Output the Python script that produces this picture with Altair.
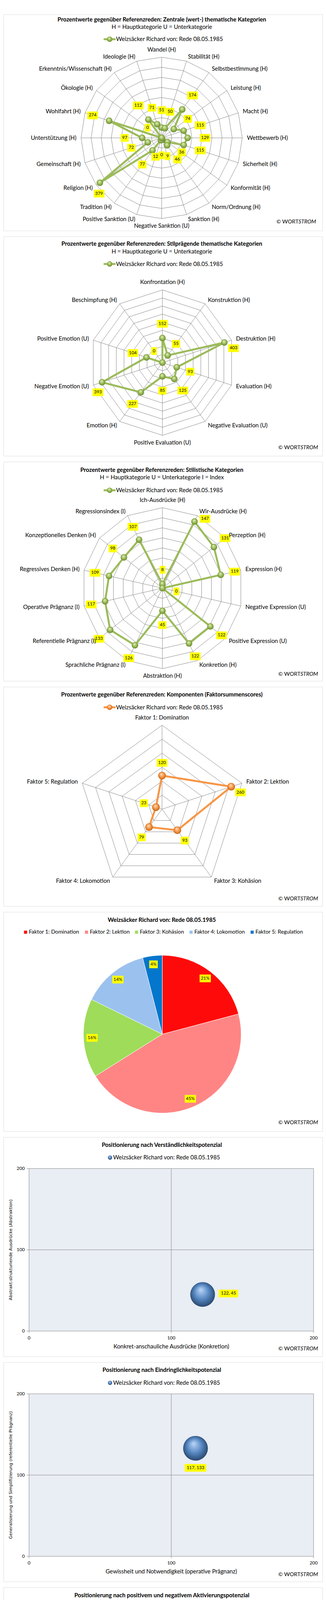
import pandas as pd
import altair as alt

# ------------------------------------------------------------------ data
SPEAKER = "Weizsäcker Richard von: Rede 08.05.1985"

zentral_cats = ["Wandel (H)", "Stabilität (H)", "Selbstbestimmung (H)", "Leistung (H)",
                "Macht (H)", "Wettbewerb (H)", "Sicherheit (H)", "Konformität (H)",
                "Norm/Ordnung (H)", "Sanktion (H)", "Negative Sanktion (U)",
                "Positive Sanktion (U)", "Tradition (H)", "Religion (H)", "Gemeinschaft (H)",
                "Unterstützung (H)", "Wohlfahrt (H)", "Ökologie (H)",
                "Erkenntnis/Wissenschaft (H)", "Ideologie (H)"]
zentral_vals = [51, 50, 174, 74, 115, 129, 115, 36, 46, 9, 0, 12, 77, 379, 72, 97, 274, 0, 112, 71]

stilpraeg_cats = ["Konfrontation (H)", "Konstruktion (H)", "Destruktion (H)", "Evaluation (H)",
                  "Negative Evaluation (U)", "Positive Evaluation (U)", "Emotion (H)",
                  "Negative Emotion (U)", "Positive Emotion (U)", "Beschimpfung (H)"]
stilpraeg_vals = [152, 55, 403, 93, 125, 85, 227, 393, 104, 0]

stilist_cats = ["Ich-Ausdrücke (H)", "Wir-Ausdrücke (H)", "Perzeption (H)", "Expression (H)",
                "Negative Expression (U)", "Positive Expression (U)", "Konkretion (H)",
                "Abstraktion (H)", "Sprachliche Prägnanz (I)", "Referentielle Prägnanz (I)",
                "Operative Prägnanz (I)", "Regressives Denken (H)", "Konzeptionelles Denken (H)",
                "Regressionsindex (I)"]
stilist_vals = [8, 147, 131, 119, 0, 122, 122, 45, 126, 133, 117, 109, 98, 107]

faktor_cats = ["Faktor 1: Domination", "Faktor 2: Lektion", "Faktor 3: Kohäsion",
               "Faktor 4: Lokomotion", "Faktor 5: Regulation"]
faktor_vals = [120, 260, 93, 79, 23]

verst_x, verst_y = [122], [45]
eindr_x, eindr_y = [117], [133]
aktiv_x, aktiv_y = [64], [179]
scatter_ticks = [0, 100, 200]

menschen_cats = ["Bevölkerung/Volk (H)", "Mensch (H)", "Bürgerrolle (H)", "Wählerrolle (H)",
                 "Familienrolle (H)", "Menschlicher Bezug Gesamt"]
menschen_vals = [423, 361, 133, 0, 131, 286]
menschen_ticks = [0, 100, 200, 300, 400, 500]

bedroh_cats = ["Unspezifische Katastrophe (H)", "Naturkatastrophe (H)", "Krise (H)",
               "Arbeitslosigkeit (H)", "Terror (H)", "Krieg (H)"]
bedroh_vals = [0, 0, 0, 0, 0, 925]
bedroh_ticks = [0, 100, 200, 300, 400, 500, 600, 700, 800, 900, 1000]

# ------------------------------------------------------------------ style / layout
FONT = "Lato"
GRID = "#868686"
YELLOW = "#FFFF00"
GREEN = "#9BBB59"
ORANGE = "#F79646"
PLOT_BG = "#E9EDF4"
PIE_COLORS = ["#FF0A0A", "#FF8585", "#9FDC5A", "#9BC1EF", "#0476CC"]
PIE_LEGEND_X = [61, 218.7, 348, 489, 647]   # page x of legend squares (layout)


def grad(light, mid, dark):
    return {"gradient": "radial", "x1": 0.42, "y1": 0.3, "r1": 0.0,
            "x2": 0.5, "y2": 0.5, "r2": 0.6,
            "stops": [{"offset": 0, "color": light},
                      {"offset": 0.5, "color": mid},
                      {"offset": 1, "color": dark}]}


GREEN_GRAD = grad("#e6f3c2", "#9bbb59", "#5b7a22")
ORANGE_GRAD = grad("#fde3c6", "#f79646", "#b35405")
BLUE_GRAD = grad("#bcd7f8", "#5687c2", "#1a3452")

X0 = 8
PW = 825
TOPS = [8, 580, 1160, 1740, 2320, 2900, 3480, 4060, 4640, 5220]
HS = [559] + [567] * 9
CX_PAGE = 417.5


def X(px):
    return px - X0


def txt(s, x, y, size=15, bold=False, italic=False, align="center", baseline="middle",
        angle=0, font=FONT, color="black"):
    kw = dict(font=font, fontSize=size, align=align, baseline=baseline, color=color)
    if bold:
        kw["fontWeight"] = "bold"
    if italic:
        kw["fontStyle"] = "italic"
    if angle:
        kw["angle"] = angle
    return alt.Chart(pd.DataFrame({"t": [s]})).mark_text(**kw).encode(
        text="t:N", x=alt.value(x), y=alt.value(y))


def header(k, title, ty, sub=None, sy=None):
    T = TOPS[k]
    out = [txt(title, X(CX_PAGE), ty - T, size=15, bold=True)]
    if sub:
        out.append(txt(sub, X(CX_PAGE), sy - T, size=15))
    return out


def copyright(k, yp, right=824):
    y = yp - TOPS[k]
    split = X(right) - 48
    return [txt("© WORT", split, y, size=14, align="right"),
            txt("STROM", split, y, size=14, italic=True, align="left")]


def legend_line(k, yp, color, g):
    y = yp - TOPS[k]
    one = pd.DataFrame({"a": [0]})
    seg = alt.Chart(one).mark_rule(color=color, strokeWidth=5).encode(
        x=alt.value(X(267)), x2=alt.value(X(298)), y=alt.value(y))
    ball = alt.Chart(one).mark_circle(size=14 * 14, opacity=1, fill=g).encode(
        x=alt.value(X(282.5)), y=alt.value(y))
    return [seg, ball, txt(SPEAKER, X(299), y, size=15, align="left")]


def legend_ball(k, yp):
    y = yp - TOPS[k]
    ball = alt.Chart(pd.DataFrame({"a": [0]})).mark_circle(size=121, opacity=1, fill=BLUE_GRAD).encode(
        x=alt.value(X(283.5)), y=alt.value(y))
    return [ball, txt(SPEAKER, X(291.5), y, size=15, align="left")]


def legend_square(k, yp, color):
    y = yp - TOPS[k]
    sq = alt.Chart(pd.DataFrame({"a": [0]})).mark_square(size=100, opacity=1, color=color,
                                                          stroke="#777777", strokeWidth=0.5).encode(
        x=alt.value(X(283.2)), y=alt.value(y))
    return [sq, txt(SPEAKER, X(291.5), y, size=15, align="left")]


# ------------------------------------------------------------------ radar
def radar_layers(k, cats, vals, cxp, cyp, R, vmax, step, line_color, g, sphere_d, val_off):
    n = len(cats)
    T = TOPS[k]
    cx, cy = X(cxp), cyp - T
    kpx = vmax / R
    xsc = alt.Scale(domain=[-vmax, vmax], range=[cx - R, cx + R], nice=False, zero=False)
    ysc = alt.Scale(domain=[-vmax, vmax], range=[cy + R, cy - R], nice=False, zero=False)

    def exy(xf, yf):
        return dict(x=alt.X(xf, type="quantitative", scale=xsc, axis=None),
                    y=alt.Y(yf, type="quantitative", scale=ysc, axis=None))

    def polar(ch):
        return ch.transform_calculate(ang=f"datum.idx * 2 * PI / {n}").transform_calculate(
            sx="sin(datum.ang)", sy="cos(datum.ang)")

    df = pd.DataFrame({"cat": cats, "value": vals, "idx": list(range(n))})
    levels = [step * (i + 1) for i in range(int(round(vmax / step)))]
    ring_df = pd.DataFrame({"ring": [r for r in levels for _ in range(n)],
                            "idx": [i for _ in levels for i in range(n)]})
    layers = []
    layers.append(
        polar(alt.Chart(ring_df)).transform_calculate(rx="datum.ring * datum.sx", ry="datum.ring * datum.sy")
        .mark_line(interpolate="linear-closed", color=GRID, strokeWidth=1)
        .encode(**exy("rx", "ry"), detail="ring:N", order="idx:Q"))
    layers.append(
        polar(alt.Chart(df)).transform_calculate(z="0", ex=f"{vmax} * datum.sx", ey=f"{vmax} * datum.sy")
        .mark_rule(color=GRID, strokeWidth=1)
        .encode(**exy("z", "z"), x2="ex:Q", y2="ey:Q"))
    pts = polar(alt.Chart(df)).transform_calculate(px="datum.value * datum.sx", py="datum.value * datum.sy")
    layers.append(pts.mark_line(interpolate="linear-closed", color=line_color, strokeWidth=5)
                  .encode(**exy("px", "py"), order="idx:Q"))
    layers.append(pts.mark_circle(size=sphere_d ** 2, opacity=1, fill=g).encode(**exy("px", "py")))

    # value labels: radial, but points close to the outer ring get their label turned
    # towards the bottom so that it stays clear of the category names
    lab = pts.transform_calculate(
        label="'' + datum.value",
        near=f"datum.value > {0.85 * vmax}").transform_calculate(
        la="datum.near ? (datum.ang < PI ? datum.ang + 0.87 : datum.ang - 0.87) : datum.ang",
        lo=f"(datum.near ? 28 : {val_off}) * {kpx}").transform_calculate(
        lxv="datum.px + datum.lo * sin(datum.la)", lyv="datum.py + datum.lo * cos(datum.la)",
        hw=f"(length(datum.label) * 6.5 + 8) / 2 * {kpx}").transform_calculate(
        bx0="datum.lxv - datum.hw", bx1="datum.lxv + datum.hw",
        by0=f"datum.lyv - {10 * kpx}", by1=f"datum.lyv + {10 * kpx}")
    layers.append(lab.mark_rect(fill=YELLOW).encode(**exy("bx0", "by0"), x2="bx1:Q", y2="by1:Q"))
    layers.append(lab.mark_text(font=FONT, fontSize=11.5, color="black").encode(**exy("lxv", "lyv"), text="label:N"))

    cl = polar(alt.Chart(df)).transform_calculate(cr=f"{vmax + 12 * kpx}").transform_calculate(
        cxv="datum.cr * datum.sx", cyv="datum.cr * datum.sy")
    for cond, align, base in [("datum.sx > 0.02", "left", "middle"),
                              ("datum.sx < -0.02", "right", "middle"),
                              ("abs(datum.sx) <= 0.02 && datum.sy > 0", "center", "bottom"),
                              ("abs(datum.sx) <= 0.02 && datum.sy < 0", "center", "top")]:
        layers.append(cl.transform_filter(cond).mark_text(font=FONT, fontSize=15, align=align,
                                                          baseline=base, color="black")
                      .encode(**exy("cxv", "cyv"), text="cat:N"))
    return layers


# ------------------------------------------------------------------ pie
def pie_layers(k, cats, vals, cxp, cyp, r, lab_r, colors, legend_y):
    T = TOPS[k]
    cx, cy = X(cxp), cyp - T
    cscale = alt.Scale(domain=cats, range=colors)
    df = pd.DataFrame({"cat": cats, "value": vals, "idx": list(range(len(cats)))})
    arcs = alt.Chart(df).mark_arc(outerRadius=r, stroke="white", strokeWidth=1).encode(
        theta=alt.Theta("value:Q", stack=True),
        color=alt.Color("cat:N", scale=cscale, legend=None),
        order=alt.Order("idx:Q"),
        x=alt.value(cx), y=alt.value(cy))
    xsc = alt.Scale(domain=[-1, 1], range=[cx - r, cx + r], nice=False, zero=False)
    ysc = alt.Scale(domain=[-1, 1], range=[cy + r, cy - r], nice=False, zero=False)
    lab = alt.Chart(df).transform_joinaggregate(total="sum(value)").transform_window(
        cum="sum(value)", sort=[alt.SortField("idx")], frame=[None, 0]).transform_calculate(
        mid="(datum.cum - datum.value / 2) / datum.total * 2 * PI",
        label="format(datum.value / datum.total, '.0%')").transform_calculate(
        lxv=f"{lab_r / r} * sin(datum.mid)", lyv=f"{lab_r / r} * cos(datum.mid)",
        hw=f"(length(datum.label) * 7 + 8) / 2 / {r}").transform_calculate(
        bx0="datum.lxv - datum.hw", bx1="datum.lxv + datum.hw",
        by0=f"datum.lyv - {10 / r}", by1=f"datum.lyv + {10 / r}")
    box = lab.mark_rect(fill=YELLOW).encode(
        x=alt.X("bx0:Q", scale=xsc, axis=None), x2="bx1:Q",
        y=alt.Y("by0:Q", scale=ysc, axis=None), y2="by1:Q")
    tx = lab.mark_text(font=FONT, fontSize=11.5, color="black").encode(
        x=alt.X("lxv:Q", scale=xsc, axis=None), y=alt.Y("lyv:Q", scale=ysc, axis=None), text="label:N")
    ly = legend_y - T
    leg = []
    for cat, lxp in zip(cats, PIE_LEGEND_X):
        one = alt.Chart(pd.DataFrame({"cat": [cat]}))
        leg.append(one.mark_square(size=64, opacity=1).encode(
            color=alt.Color("cat:N", scale=cscale, legend=None),
            x=alt.value(X(lxp) + 4), y=alt.value(ly)))
        leg.append(one.mark_text(font=FONT, fontSize=14, align="left", baseline="middle", color="black")
                   .encode(text="cat:N", x=alt.value(X(lxp) + 12.6), y=alt.value(ly)))
    return [arcs, box, tx] + leg


# ------------------------------------------------------------------ scatter
def scatter_layers(k, xv, yv, ptop, pbot, lab_dx, lab_dy, xtitle, ytitle, xtitle_y):
    T = TOPS[k]
    x0, x1 = X(74), X(810)
    y0, y1 = pbot - T, ptop - T
    kx = 200 / (x1 - x0)
    ky = 200 / (y0 - y1)
    xsc = alt.Scale(domain=[0, 200], range=[x0, x1], nice=False, zero=False)
    ysc = alt.Scale(domain=[0, 200], range=[y0, y1], nice=False, zero=False)
    frame = pd.DataFrame({"lo": [0], "hi": [200]})
    bg = alt.Chart(frame).mark_rect(fill=PLOT_BG, stroke=GRID, strokeWidth=1).encode(
        x=alt.X("lo:Q", scale=xsc, axis=None), x2="hi:Q",
        y=alt.Y("lo:Q", scale=ysc, axis=None), y2="hi:Q")
    mids = pd.DataFrame({"m": scatter_ticks[1:-1], "lo": [0], "hi": [200]})
    vrule = alt.Chart(mids).mark_rule(color=GRID, strokeWidth=1).encode(
        x=alt.X("m:Q", scale=xsc, axis=None), y=alt.Y("lo:Q", scale=ysc, axis=None), y2="hi:Q")
    hrule = alt.Chart(mids).mark_rule(color=GRID, strokeWidth=1).encode(
        y=alt.Y("m:Q", scale=ysc, axis=None), x=alt.X("lo:Q", scale=xsc, axis=None), x2="hi:Q")
    ticks = alt.Chart(pd.DataFrame({"t": scatter_ticks}))
    xtick = ticks.mark_rule(color=GRID).encode(
        x=alt.X("t:Q", scale=xsc, axis=None), y=alt.value(y0), y2=alt.value(y0 + 5))
    xlab = ticks.mark_text(font=FONT, fontSize=12, color="black", baseline="middle").encode(
        x=alt.X("t:Q", scale=xsc, axis=None), y=alt.value(y0 + 17.5), text="t:N")
    ytick = ticks.mark_rule(color=GRID).encode(
        y=alt.Y("t:Q", scale=ysc, axis=None), x=alt.value(x0 - 6), x2=alt.value(x0))
    ylab = ticks.mark_text(font=FONT, fontSize=12, color="black", align="right", baseline="middle").encode(
        y=alt.Y("t:Q", scale=ysc, axis=None), x=alt.value(x0 - 11), text="t:N")
    pts = alt.Chart(pd.DataFrame({"vx": xv, "vy": yv}))
    bubble = pts.mark_circle(size=64 * 64, opacity=1, fill=BLUE_GRAD).encode(
        x=alt.X("vx:Q", scale=xsc, axis=None), y=alt.Y("vy:Q", scale=ysc, axis=None))
    lab = pts.transform_calculate(
        label="datum.vx + ', ' + datum.vy",
        lxv=f"datum.vx + {lab_dx * kx}", lyv=f"datum.vy - {lab_dy * ky}").transform_calculate(
        hw=f"(length(datum.label) * 6.0 + 8) / 2 * {kx}").transform_calculate(
        bx0="datum.lxv - datum.hw", bx1="datum.lxv + datum.hw",
        by0=f"datum.lyv - {10 * ky}", by1=f"datum.lyv + {10 * ky}")
    box = lab.mark_rect(fill=YELLOW).encode(
        x=alt.X("bx0:Q", scale=xsc, axis=None), x2="bx1:Q",
        y=alt.Y("by0:Q", scale=ysc, axis=None), y2="by1:Q")
    tx = lab.mark_text(font=FONT, fontSize=11.5, color="black").encode(
        x=alt.X("lxv:Q", scale=xsc, axis=None), y=alt.Y("lyv:Q", scale=ysc, axis=None), text="label:N")
    titles = [txt(xtitle, (x0 + x1) / 2, xtitle_y - T, size=15),
              txt(ytitle, X(27.7), (y0 + y1) / 2, size=11, angle=270, font="DejaVu Sans")]
    return [bg, vrule, hrule, xtick, xlab, ytick, ylab, bubble, box, tx] + titles


# ------------------------------------------------------------------ bars
def bar_layers(k, cats, vals, ticks, px0, px1, ptop, pbot, pin, pout, fill, stroke, bg_color,
               label_size):
    T = TOPS[k]
    vmax = ticks[-1]
    x0, x1 = X(px0), X(px1)
    y0, y1 = pbot - T, ptop - T
    kpx = vmax / (y0 - y1)
    xsc = alt.Scale(domain=cats, range=[x0, x1], paddingInner=pin, paddingOuter=pout)
    ysc = alt.Scale(domain=[0, vmax], range=[y0, y1], nice=False, zero=True)
    frame = alt.Chart(pd.DataFrame({"lo": [0], "hi": [vmax]}))
    bg = frame.mark_rect(fill=bg_color, stroke="black", strokeWidth=1).encode(
        x=alt.value(x0), x2=alt.value(x1), y=alt.Y("lo:Q", scale=ysc, axis=None), y2="hi:Q")
    tk = alt.Chart(pd.DataFrame({"t": ticks}))
    grid = tk.transform_filter("datum.t > 0").mark_rule(color="black", strokeWidth=1).encode(
        x=alt.value(x0), x2=alt.value(x1), y=alt.Y("t:Q", scale=ysc, axis=None))
    ytick = tk.mark_rule(color=GRID).encode(
        x=alt.value(x0 - 8), x2=alt.value(x0), y=alt.Y("t:Q", scale=ysc, axis=None))
    ylab = tk.mark_text(font=FONT, fontSize=12, color="black", align="right", baseline="middle").encode(
        x=alt.value(x0 - 12), y=alt.Y("t:Q", scale=ysc, axis=None), text="t:N")
    yaxis = frame.mark_rule(color=GRID, strokeWidth=1).encode(
        x=alt.value(x0), y=alt.Y("lo:Q", scale=ysc, axis=None), y2="hi:Q")
    df = pd.DataFrame({"cat": cats, "value": vals})
    bars = alt.Chart(df).mark_bar(fill=fill, stroke=stroke, strokeWidth=1).encode(
        x=alt.X("cat:N", scale=xsc, axis=None), y=alt.Y("value:Q", scale=ysc, axis=None))
    xaxis = frame.mark_rule(color=GRID, strokeWidth=1).encode(
        x=alt.value(x0), x2=alt.value(x1), y=alt.Y("lo:Q", scale=ysc, axis=None))
    xlab = alt.Chart(df).mark_text(font=FONT, fontSize=label_size, fontStyle="italic", color="black",
                                   align="right", baseline="middle", angle=315).encode(
        x=alt.X("cat:N", scale=xsc, axis=None), y=alt.value(y0 + 14), text="cat:N")
    layers = [bg, grid, bars, yaxis, xaxis, ytick, ylab, xlab]
    lab = alt.Chart(df).transform_calculate(label="'' + datum.value",
                                            lc=f"datum.value + {13 * kpx}").transform_calculate(
        b0=f"datum.lc - {10 * kpx}", b1=f"datum.lc + {10 * kpx}")
    for L in sorted(set(len(str(v)) for v in vals)):
        layers.append(lab.transform_filter(f"length(datum.label) == {L}")
                      .mark_bar(width=L * 6.5 + 8, fill=YELLOW)
                      .encode(x=alt.X("cat:N", scale=xsc, axis=None),
                              y=alt.Y("b0:Q", scale=ysc, axis=None), y2="b1:Q"))
    layers.append(lab.mark_text(font=FONT, fontSize=11.5, color="black").encode(
        x=alt.X("cat:N", scale=xsc, axis=None), y=alt.Y("lc:Q", scale=ysc, axis=None), text="label:N"))
    return layers


# ------------------------------------------------------------------ panels
SUB_HU = "H = Hauptkategorie U = Unterkategorie"
panels = []

L = (header(0, "Prozentwerte gegenüber Referenzreden: Zentrale (wert-) thematische Kategorien", 21, SUB_HU, 40)
     + legend_line(0, 72, GREEN, GREEN_GRAD)
     + radar_layers(0, zentral_cats, zentral_vals, 417, 327, 208.5, 400, 50, GREEN, GREEN_GRAD, 17, 45)
     + copyright(0, 544, 819))
panels.append(alt.layer(*L).properties(width=PW, height=HS[0]))

L = (header(1, "Prozentwerte gegenüber Referenzreden:  Stilprägende thematische Kategorien", 599, SUB_HU, 619)
     + legend_line(1, 651, GREEN, GREEN_GRAD)
     + radar_layers(1, stilpraeg_cats, stilpraeg_vals, 419, 906, 188, 450, 50, GREEN, GREEN_GRAD, 17, 37)
     + copyright(1, 1126))
panels.append(alt.layer(*L).properties(width=PW, height=HS[1]))

L = (header(2, "Prozentwerte gegenüber Referenzreden:  Stilistische Kategorien", 1181,
            "H = Hauptkategorie U = Unterkategorie I = Index", 1201)
     + legend_line(2, 1234, GREEN, GREEN_GRAD)
     + radar_layers(2, stilist_cats, stilist_vals, 419, 1487, 208, 160, 20, GREEN, GREEN_GRAD, 17, 37)
     + copyright(2, 1709))
panels.append(alt.layer(*L).properties(width=PW, height=HS[2]))

L = (header(3, "Prozentwerte gegenüber Referenzreden:  Komponenten (Faktorsummenscores)", 1760)
     + legend_line(3, 1793, ORANGE, ORANGE_GRAD)
     + radar_layers(3, faktor_cats, faktor_vals, 418, 2056.3, 217, 300, 50, ORANGE, ORANGE_GRAD, 20, 33)
     + copyright(3, 2288))
panels.append(alt.layer(*L).properties(width=PW, height=HS[3]))

L = (header(4, SPEAKER, 2340.3)
     + pie_layers(4, faktor_cats, faktor_vals, 418.7, 2636, 204, 182, PIE_COLORS, 2372.3)
     + copyright(4, 2865))
panels.append(alt.layer(*L).properties(width=PW, height=HS[4]))

L = (header(5, "Positionierung nach  Verständlichkeitspotenzial", 2920.3)
     + legend_ball(5, 2953)
     + scatter_layers(5, verst_x, verst_y, 2981.3, 3401.3, 67, -2.5,
                      "Konkret-anschauliche  Ausdrücke (Konkretion)",
                      "Abstrakt-strukturiende  Ausdrücke  (Abstraktion)", 3441.3)
     + copyright(5, 3447.3))
panels.append(alt.layer(*L).properties(width=PW, height=HS[5]))

L = (header(6, "Positionierung nach  Eindringlichkeitspotenzial", 3500.3)
     + legend_ball(6, 3533.3)
     + scatter_layers(6, eindr_x, eindr_y, 3561.7, 3981.7, 0, 50.5,
                      "Gewissheit und Notwendigkeit (operative Prägnanz)",
                      "Generalisierung und Simplifizierung  (referentielle Prägnanz)", 4021.3)
     + copyright(6, 4028.7))
panels.append(alt.layer(*L).properties(width=PW, height=HS[6]))

L = (header(7, "Positionierung nach  positivem und negativem Aktivierungspotenzial", 4080.3)
     + legend_ball(7, 4113.3)
     + scatter_layers(7, aktiv_x, aktiv_y, 4141.7, 4561.3, 0, 49.7,
                      "Positives  Aktivierungspotenzial",
                      "Negatives Aktivierungspotenzial", 4601.3)
     + copyright(7, 4608.7))
panels.append(alt.layer(*L).properties(width=PW, height=HS[7]))

L = (header(8, "Prozentwerte gegenüber Referenzreden:  Bezüge zu Menschen und Rollen", 4660.3)
     + legend_square(8, 4693.3, "#9CDB5A")
     + bar_layers(8, menschen_cats, menschen_vals, menschen_ticks, 45.9, 819.7, 4721.3, 5044,
                  0.17, 0.09, "#9CDB5A", "#86C24A", "#EBF1DF", 14.5)
     + copyright(8, 5188.3))
panels.append(alt.layer(*L).properties(width=PW, height=HS[8]))

L = (header(9, "Prozentwerte gegenüber Referenzreden:  Bezüge zu Bedrohungen", 5240.7)
     + legend_square(9, 5273.3, "#BDAAD4")
     + bar_layers(9, bedroh_cats, bedroh_vals, bedroh_ticks, 85.3, 819.7, 5301.7, 5616,
                  0.156, 0.074, "#BDAAD4", "#A18DBA", "#E5E0EC", 13.5)
     + copyright(9, 5768.3))
panels.append(alt.layer(*L).properties(width=PW, height=HS[9]))

chart = alt.vconcat(*panels, spacing=13).properties(padding=0).configure_view(
    stroke="black", strokeWidth=1, fill="white").configure(background="white")

chart.save("out.html", embed_options={"renderer": "svg", "actions": False})
